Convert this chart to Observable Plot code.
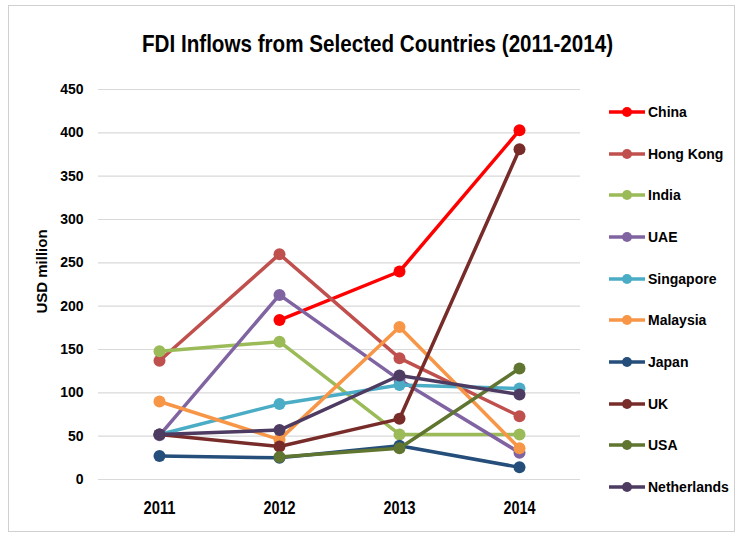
<!DOCTYPE html>
<html>
<head>
<meta charset="utf-8">
<script src="https://cdn.jsdelivr.net/npm/d3@7"></script>
<script src="https://cdn.jsdelivr.net/npm/@observablehq/plot@0.6"></script>
<style>
  html, body { margin: 0; padding: 0; background: #fff; }
  #wrap { position: relative; width: 738px; height: 536px; overflow: hidden; }
  #frame { position: absolute; left: 8px; top: 5px; width: 727px; height: 527px; border: 1px solid #d0d0d0; box-sizing: border-box; pointer-events: none; }
  #chart { position: absolute; left: 0; top: 0; }
  #legend { position: absolute; left: 608px; top: 91px; font-family: "Liberation Sans", Arial, sans-serif; font-weight: bold; font-size: 14px; color: #000; }
  .item { display: flex; align-items: center; height: 41.7px; }
  .item svg { margin-right: 2px; }
</style>
</head>
<body>
<div id="wrap">
  <div id="chart"></div>
  <div id="legend"></div>
  <div id="frame"></div>
</div>
<script>
const years = ["2011", "2012", "2013", "2014"];
const countries = ["China", "Hong Kong", "India", "UAE", "Singapore", "Malaysia", "Japan", "UK", "USA", "Netherlands"];
const colors = ["#FF0000", "#C0504D", "#9BBB59", "#8064A2", "#4BACC6", "#F79646", "#254E7A", "#772C2A", "#5F7530", "#4D3B62"];

const china       = [null, 184, 240, 403];
const hongKong    = [137, 260, 140, 73];
const india       = [148, 159, 52, 52];
const uae         = [51, 213, 115, 31];
const singapore   = [52, 87, 109, 105];
const malaysia    = [90, 46, 176, 36];
const japan       = [27, 25, 39, 14];
const uk          = [52, 38, 70, 381];
const usa         = [null, 26, 36, 128];
const netherlands = [52, 57, 120, 98];

const yTicks = [0, 50, 100, 150, 200, 250, 300, 350, 400, 450];
const title = "FDI Inflows from Selected Countries (2011-2014)";
const yLabel = "USD million";

const seriesValues = [china, hongKong, india, uae, singapore, malaysia, japan, uk, usa, netherlands];
const rows = countries.flatMap((c, i) => years.map((y, j) => ({country: c, year: y, value: seriesValues[i][j]})));

const font = '"Liberation Sans", Arial, sans-serif';

const seriesMarks = countries.flatMap(c => {
  const d = rows.filter(r => r.country === c);
  return [
    Plot.line(d, {x: "year", y: "value", stroke: "country", strokeWidth: 3.5, curve: "linear"}),
    Plot.dot(d.filter(r => r.value != null), {x: "year", y: "value", fill: "country", r: 6, stroke: "none"})
  ];
});

const chart = Plot.plot({
  width: 738,
  height: 536,
  marginLeft: 98,
  marginRight: 158,
  marginTop: 89,
  marginBottom: 57,
  style: {fontFamily: font, fontWeight: "bold", fontSize: "14px", color: "#000", background: "transparent"},
  x: {type: "point", domain: years, padding: 0.5, label: null},
  y: {domain: [0, 450], ticks: yTicks, label: null},
  color: {domain: countries, range: colors},
  marks: [
    Plot.gridY(yTicks, {stroke: "#d9d9d9", strokeOpacity: 1, strokeWidth: 1.2}),
    Plot.axisY(yTicks, {tickSize: 0, tickPadding: 15, fontSize: 14, fontWeight: "bold", label: null}),
    Plot.axisX(years, {tickSize: 0, tickPadding: 22, fontSize: 18, fontWeight: "bold", label: null}),
    ...seriesMarks,
    Plot.text([title], {frameAnchor: "top", dy: -55, dx: 38, fontSize: 24, fontWeight: "bold", fill: "#000"}),
    Plot.text([yLabel], {frameAnchor: "left", textAnchor: "middle", dx: -56, dy: -13, rotate: -90, fontSize: 15, fontWeight: "bold", fill: "#000"})
  ]
});
document.getElementById("chart").appendChild(chart);

// condense texts to the width of the original narrow font
chart.querySelectorAll("text").forEach(t => {
  if (t.textContent === title) {
    t.setAttribute("textLength", 471);
    t.setAttribute("lengthAdjust", "spacingAndGlyphs");
  }
});
chart.querySelectorAll('g[aria-label="x-axis tick label"] text').forEach(t => {
  t.setAttribute("textLength", 32);
  t.setAttribute("lengthAdjust", "spacingAndGlyphs");
});

const legend = document.getElementById("legend");
countries.forEach((c, i) => {
  const item = document.createElement("div");
  item.className = "item";
  item.innerHTML = `<svg width="38" height="14"><line x1="1" y1="7" x2="37" y2="7" stroke="${colors[i]}" stroke-width="3.5"/><circle cx="19" cy="7" r="5" fill="${colors[i]}"/></svg><span>${c}</span>`;
  legend.appendChild(item);
});
</script>
</body>
</html>
